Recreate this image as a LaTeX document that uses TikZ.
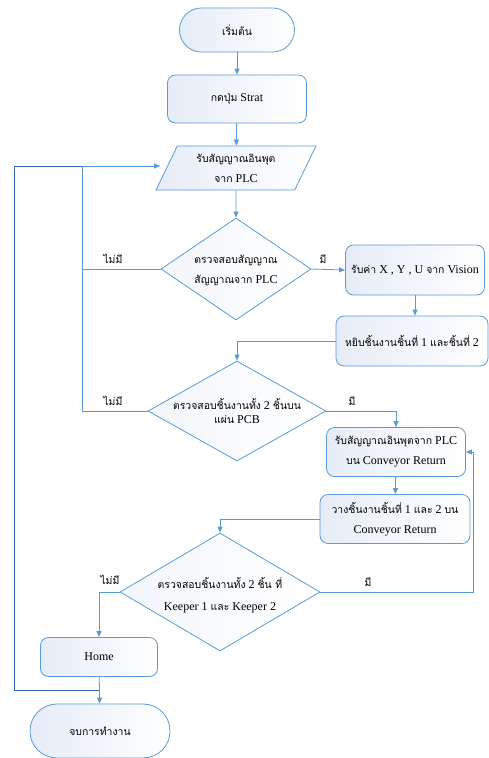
\documentclass[tikz,border=0pt]{standalone}
\usepackage{fontspec}
\setmainfont{Liberation Serif}
\newfontfamily\thaifont[Script=Thai,Scale=0.87]{Loma}
\usetikzlibrary{shapes.geometric,arrows.meta}
\definecolor{lb}{RGB}{91,155,213}
\definecolor{db}{RGB}{55,105,170}
\definecolor{fb}{RGB}{230,236,247}
\newcommand\tf[1]{{\thaifont #1}}
\begin{document}
\begin{tikzpicture}[x=1pt,y=-1pt,
  every node/.style={font=\fontsize{12}{20}\selectfont, align=center, inner sep=0pt},
  shp/.style={draw=lb, line width=0.8pt, left color=fb, right color=white},
  term/.style={shp, rectangle},
  box/.style={shp, rectangle, rounded corners=8pt},
  dia/.style={shp, diamond, left color=fb!50, right color=white},
  io/.style={shp, trapezium, trapezium left angle=63.4, trapezium right angle=116.6, trapezium stretches=true},
  conn/.style={draw=lb, line width=0.8pt},
  arr/.style={conn, -{Triangle[length=6pt,width=5pt]}},
  lbl/.style={font=\fontsize{12}{13}\selectfont}
]
\useasboundingbox (0,0) rectangle (489,758);
\fill[white] (0,0) rectangle (489,758);

% nodes
\node[term, rounded corners=21.9pt, minimum width=115pt, minimum height=44pt] (start) at (237,30) {\tf{เริ่มต้น}};
\node[box, minimum width=139pt, minimum height=48pt] (press) at (237,99) {\tf{กดปุ่ม} Strat};
\node[io, minimum width=160pt, minimum height=44pt] (inp) at (236,168) {\tf{รับสัญญาณอินพุต}\\\tf{จาก} PLC};
\node[dia, minimum width=150pt, minimum height=102pt] (d1) at (236,269) {};
\node (d1t) at (236,271) {\tf{ตรวจสอบสัญญาณ}\\\tf{สัญญาณจาก} PLC};
\node[box, minimum width=139pt, minimum height=50pt] (rv) at (415,270) {\tf{รับค่า} X , Y , U \tf{จาก} Vision};
\node[box, minimum width=152pt, minimum height=50pt] (pick) at (412,341) {\tf{หยิบชิ้นงานชิ้นที่} 1 \tf{และชิ้นที่} 2};
\node[dia, minimum width=178pt, minimum height=100pt] (d2) at (237,411) {};
\node[font=\fontsize{12}{14}\selectfont] (d2t) at (237,411) {\tf{ตรวจสอบชิ้นงานทั้ง} 2 \tf{ชิ้นบน}\\\tf{แผ่น} PCB};
\node[box, minimum width=139pt, minimum height=49pt] (b3) at (396,452) {\tf{รับสัญญาณอินพุตจาก} PLC\\\tf{บน} Conveyor Return};
\node[box, minimum width=150pt, minimum height=49pt] (b4) at (395,519) {\tf{วางชิ้นงานชิ้นที่} 1 \tf{และ} 2 \tf{บน}\\Conveyor Return};
\node[dia, minimum width=200pt, minimum height=118pt] (d3) at (220,592) {};
\node[font=\fontsize{12}{22}\selectfont] (d3t) at (220,595) {\tf{ตรวจสอบชิ้นงานทั้ง} 2 \tf{ชิ้น ที่}\\Keeper 1 \tf{และ} Keeper 2};
\node[box, minimum width=117pt, minimum height=39pt] (home) at (99,657) {Home};
\node[term, rounded corners=26.9pt, minimum width=140pt, minimum height=54pt] (stop) at (100,731) {\tf{จบการทำงาน}};

% labels
\node[lbl] (l1) at (113,259) {\tf{ไม่มี}};
\node[lbl] (l2) at (323,259) {\tf{มี}};
\node[lbl] (l3) at (113,401) {\tf{ไม่มี}};
\node[lbl] (l4) at (352,401) {\tf{มี}};
\node[lbl] (l5) at (110,580) {\tf{ไม่มี}};
\node[lbl] (l6) at (368,582) {\tf{มี}};

% coordinates
\coordinate (inpL) at (160,166);
\coordinate (jL) at (82,166);
\coordinate (loopB) at (99,690);

% connectors
\draw[arr] (start) -- (press);
\draw[arr] (press) -- (inp);
\draw[arr] (inp) -- (d1);
\draw[arr] (d1.east) -- (rv.west);
\draw[arr] (rv.south) -- (rv.south |- pick.north);
\draw[arr] (pick.west) -| (d2.north);
\draw[conn] (d1.west) -- (jL |- d1.west);
\draw[arr] (d2.west) -| (jL) -- (inpL);
\draw[arr] (d2.east) -| (b3.north);
\draw[arr] (b3) -- (b4);
\draw[arr] (b4.west) -| (d3.north);
\draw[arr] (d3.east) -- (473,592) |- (b3.east);
\draw[arr] (d3.west) -| (home.north);
\draw[arr] (home) -- (stop);
\draw[draw=db, line width=0.8pt] (loopB) -- (14,690) |- (jL);
\end{tikzpicture}
\end{document}
